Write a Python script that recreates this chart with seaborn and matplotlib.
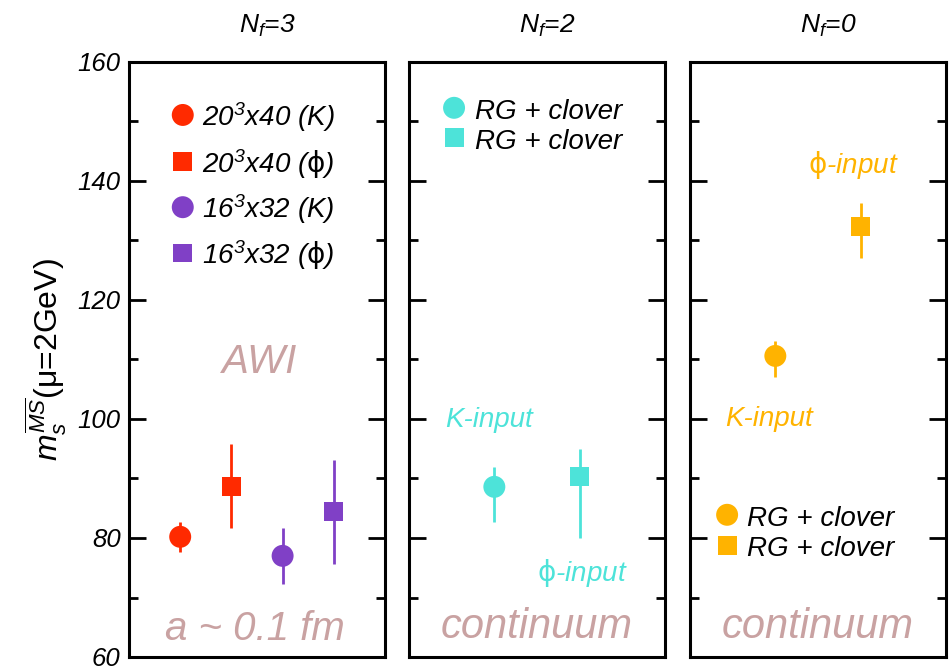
import matplotlib
matplotlib.use("Agg")
import matplotlib.pyplot as plt
import pandas as pd
import seaborn as sns
from matplotlib.ticker import MultipleLocator

# ---------------------------------------------------------------- data
panel_titles = ["$N_f$=3", "$N_f$=2", "$N_f$=0"]

nf3_labels = ["20$^{3}$x40 (K)", r"20$^{3}$x40 ($\mathsf{\phi}$)",
              "16$^{3}$x32 (K)", r"16$^{3}$x32 ($\mathsf{\phi}$)"]
nf3_values = [80.2, 88.7, 77.0, 84.4]
nf3_err_lo = [2.5, 7.0, 4.7, 8.8]
nf3_err_hi = [2.5, 7.1, 4.7, 8.7]

nf2_labels = ["RG + clover", "RG + clover"]
nf2_values = [88.6, 90.3]
nf2_err_lo = [5.9, 10.3]
nf2_err_hi = [3.3, 4.7]

nf0_labels = ["RG + clover", "RG + clover"]
nf0_values = [110.6, 132.3]
nf0_err_lo = [3.5, 5.2]
nf0_err_hi = [2.5, 4.0]

k_note = "K-input"
phi_note = r"$\mathsf{\phi}$-input"

# ---------------------------------------------------------------- style
RED, PURPLE = "#FF2A00", "#8040C6"
CYAN, ORANGE = "#4DE3D9", "#FFB300"
NOTE = "#C9A2A2"

sns.set_theme(style="white")
plt.rcParams["font.family"] = ["Liberation Sans", "DejaVu Sans"]
plt.rcParams["mathtext.fontset"] = "custom"
plt.rcParams["mathtext.rm"] = "Liberation Sans:italic"
plt.rcParams["mathtext.it"] = "Liberation Sans:italic"
plt.rcParams["mathtext.bf"] = "Liberation Sans:bold:italic"
plt.rcParams["mathtext.sf"] = "DejaVu Sans"
for key in ("text.color", "axes.labelcolor", "xtick.color", "ytick.color",
            "axes.edgecolor"):
    plt.rcParams[key] = "black"

SIZES = {"o": 250, "s": 185}

fig = plt.figure(figsize=(9.52, 6.68), dpi=100)
W, H = 952.0, 668.0
lefts = [129, 409, 690]
axes = [fig.add_axes([l / W, 1 - 657 / H, 256 / W, 595 / H]) for l in lefts]


def draw_points(ax, values, lo, hi, markers, colors):
    n = len(values)
    xs = [(i + 1) / (n + 1) for i in range(n)]
    for x, v, l, h, c in zip(xs, values, lo, hi, colors):
        ax.errorbar(x, v, yerr=[[l], [h]], fmt="none", ecolor=c,
                    elinewidth=2.0, capsize=0, zorder=2)
    df = pd.DataFrame({"x": xs, "y": values, "k": list(range(n))})
    sns.scatterplot(data=df, x="x", y="y", hue="k", style="k", size="k",
                    palette=dict(enumerate(colors)),
                    markers=dict(enumerate(markers)),
                    sizes={i: SIZES[m] for i, m in enumerate(markers)},
                    linewidth=0, legend=False, ax=ax, zorder=3)


def draw_key(ax, x_mark, x_text, ys, labels, markers, colors, fs=20):
    df = pd.DataFrame({"x": [x_mark] * len(ys), "y": ys, "k": list(range(len(ys)))})
    sns.scatterplot(data=df, x="x", y="y", hue="k", style="k", size="k",
                    palette=dict(enumerate(colors)),
                    markers=dict(enumerate(markers)),
                    sizes={i: SIZES[m] for i, m in enumerate(markers)},
                    linewidth=0, legend=False, ax=ax, zorder=3)
    for y, lab in zip(ys, labels):
        ax.text(x_text, y - 1.9, lab, fontsize=fs, fontstyle="italic",
                color="black", ha="left", va="baseline")


# Nf = 3 panel
draw_points(axes[0], nf3_values, nf3_err_lo, nf3_err_hi,
            ["o", "s", "o", "s"], [RED, RED, PURPLE, PURPLE])
draw_key(axes[0], 0.21, 0.285, [151.1, 143.3, 135.6, 127.9], nf3_labels,
         ["o", "s", "o", "s"], [RED, RED, PURPLE, PURPLE])
axes[0].text(0.51, 107.7, "AWI", fontsize=29, fontstyle="italic",
             color=NOTE, ha="center", va="baseline")
axes[0].text(0.49, 62.9, "a ~ 0.1 fm", fontsize=29, fontstyle="italic",
             color=NOTE, ha="center", va="baseline")

# Nf = 2 panel
draw_points(axes[1], nf2_values, nf2_err_lo, nf2_err_hi, ["o", "s"], [CYAN, CYAN])
draw_key(axes[1], 0.176, 0.258, [152.3, 147.3], nf2_labels, ["o", "s"], [CYAN, CYAN])
axes[1].text(0.14, 98.6, k_note, fontsize=20, fontstyle="italic",
             color=CYAN, ha="left", va="baseline")
axes[1].text(0.50, 72.8, phi_note, fontsize=20, fontstyle="italic",
             color=CYAN, ha="left", va="baseline")
axes[1].text(0.50, 63.2, "continuum", fontsize=30, fontstyle="italic",
             color=NOTE, ha="center", va="baseline")

# Nf = 0 panel
draw_points(axes[2], nf0_values, nf0_err_lo, nf0_err_hi, ["o", "s"], [ORANGE, ORANGE])
draw_key(axes[2], 0.145, 0.223, [83.9, 78.8], nf0_labels, ["o", "s"], [ORANGE, ORANGE])
axes[2].text(0.46, 141.3, phi_note, fontsize=20, fontstyle="italic",
             color=ORANGE, ha="left", va="baseline")
axes[2].text(0.137, 98.9, k_note, fontsize=20, fontstyle="italic",
             color=ORANGE, ha="left", va="baseline")
axes[2].text(0.50, 63.2, "continuum", fontsize=30, fontstyle="italic",
             color=NOTE, ha="center", va="baseline")

# ---------------------------------------------------------------- axes
for i, ax in enumerate(axes):
    ax.set_xlim(0, 1)
    ax.set_ylim(60, 160)
    ax.set_xlabel("")
    ax.set_ylabel("")
    ax.set_xticks([])
    ax.yaxis.set_major_locator(MultipleLocator(20))
    ax.yaxis.set_minor_locator(MultipleLocator(10))
    ax.tick_params(axis="y", which="both", direction="in", left=True, right=True,
                   labelleft=(i == 0), labelright=False, width=2.0,
                   color="black", labelcolor="black", pad=6)
    ax.tick_params(axis="y", which="major", length=12.5, labelsize=18.5)
    ax.tick_params(axis="y", which="minor", length=6.5)
    for lab in ax.get_yticklabels():
        lab.set_fontstyle("italic")
    for sp in ax.spines.values():
        sp.set_linewidth(2.2)
        sp.set_color("black")
    ax.text(0.54, 1 + 29 / 595, panel_titles[i], transform=ax.transAxes,
            fontsize=19, fontstyle="italic", color="black",
            ha="center", va="baseline")

axes[0].set_ylabel(r"$m_s^{\overline{MS}}$(μ=2GeV)", fontsize=23, color="black")
axes[0].yaxis.set_label_coords(-0.235, 0.5)

fig.savefig("out.png", dpi=100)
